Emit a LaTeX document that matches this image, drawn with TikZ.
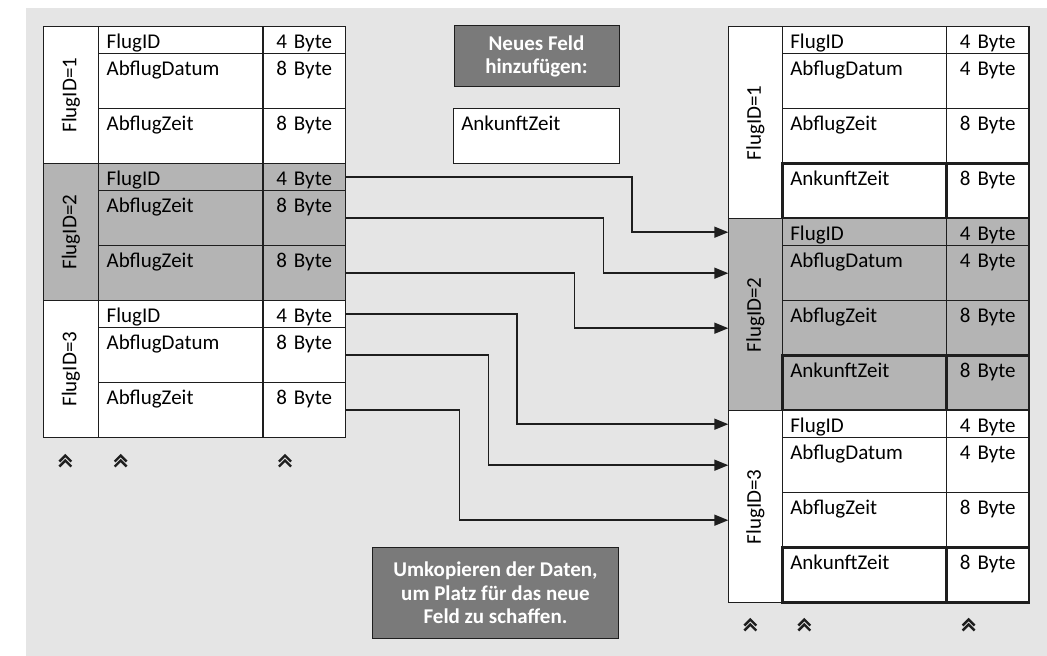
\documentclass[tikz,border=0pt]{standalone}
\usepackage{fontspec}
\setmainfont{Carlito}
\usetikzlibrary{arrows.meta}

\definecolor{bggray}{RGB}{229,229,229}
\definecolor{blockgray}{RGB}{180,180,180}
\definecolor{notegray}{RGB}{122,122,122}
\definecolor{linegray}{RGB}{30,30,30}

\tikzset{
	cell/.style={draw=linegray, line width=1.5pt, fill=white, anchor=north west,
		inner xsep=8pt, inner ysep=0pt, outer sep=0pt, text height=21.7pt},
	namecell/.style={cell, text width=148.3pt, align=left},
	sizecell/.style={cell, text width=66.3pt, align=center},
	srow/.style={text depth=5.3pt},
	trow/.style={text depth=33.3pt},
	greyblock/.style={fill=blockgray},
	newfield/.style={line width=2.6pt},
	idcol/.style={draw=linegray, line width=1.5pt, fill=white, anchor=north west,
		inner sep=0pt, outer sep=0pt},
	idtext/.style={rotate=90, inner sep=0pt},
	note/.style={draw=linegray, line width=1pt, fill=notegray, text=white,
		font=\fontsize{21}{23.5}\bfseries\selectfont, align=center, inner sep=0pt},
	copyline/.style={draw=linegray, line width=1.5pt, -{Triangle[length=14pt, width=11pt]}},
	chevron/.style={draw=linegray, line width=2.4pt}
}

\begin{document}
\begin{tikzpicture}[x=1pt, y=-1pt, font=\fontsize{21}{24}\selectfont]
	\useasboundingbox (0,0) rectangle (1047,656);
	\fill[bggray] (26,8) rectangle (1047,656);

	% Old table
	% Block 1
	\node[idcol, minimum width=55.4pt, minimum height=137pt] (L1) at (43.3,26.7) {};
	\node[idtext] (L1t) at (L1.center) {FlugID=1};
	\node[namecell, srow] (L1a) at (98.7,26.7) {FlugID};
	\node[sizecell, srow] (L1a-s) at (263,26.7) {4 Byte};
	\node[namecell, trow] (L1b) at (98.7,53.7) {AbflugDatum};
	\node[sizecell, trow] (L1b-s) at (263,53.7) {8 Byte};
	\node[namecell, trow] (L1c) at (98.7,108.7) {AbflugZeit};
	\node[sizecell, trow] (L1c-s) at (263,108.7) {8 Byte};

	% Block 2
	\node[idcol, greyblock, minimum width=55.4pt, minimum height=137pt] (L2) at (43.3,163.7) {};
	\node[idtext] (L2t) at (L2.center) {FlugID=2};
	\node[namecell, srow, greyblock] (L2a) at (98.7,163.7) {FlugID};
	\node[sizecell, srow, greyblock] (L2a-s) at (263,163.7) {4 Byte};
	\node[namecell, trow, greyblock] (L2b) at (98.7,190.7) {AbflugZeit};
	\node[sizecell, trow, greyblock] (L2b-s) at (263,190.7) {8 Byte};
	\node[namecell, trow, greyblock] (L2c) at (98.7,245.7) {AbflugZeit};
	\node[sizecell, trow, greyblock] (L2c-s) at (263,245.7) {8 Byte};

	% Block 3
	\node[idcol, minimum width=55.4pt, minimum height=137pt] (L3) at (43.3,300.7) {};
	\node[idtext] (L3t) at (L3.center) {FlugID=3};
	\node[namecell, srow] (L3a) at (98.7,300.7) {FlugID};
	\node[sizecell, srow] (L3a-s) at (263,300.7) {4 Byte};
	\node[namecell, trow] (L3b) at (98.7,327.7) {AbflugDatum};
	\node[sizecell, trow] (L3b-s) at (263,327.7) {8 Byte};
	\node[namecell, trow] (L3c) at (98.7,382.7) {AbflugZeit};
	\node[sizecell, trow] (L3c-s) at (263,382.7) {8 Byte};

	% Continuation marks
	\draw[chevron] (59.3,461.5) -- (65.3,455.5) -- (71.3,461.5) (59.3,466.5) -- (65.3,460.5) -- (71.3,466.5);
	\draw[chevron] (114.7,461.5) -- (120.7,455.5) -- (126.7,461.5) (114.7,466.5) -- (120.7,460.5) -- (126.7,466.5);
	\draw[chevron] (279,461.5) -- (285,455.5) -- (291,461.5) (279,466.5) -- (285,460.5) -- (291,466.5);

	% New table
	% Block 1
	\node[idcol, minimum width=54pt, minimum height=192pt] (R1) at (728.3,26.7) {};
	\node[idtext] (R1t) at (R1.center) {FlugID=1};
	\node[namecell, srow] (R1a) at (782.3,26.7) {FlugID};
	\node[sizecell, srow] (R1a-s) at (946.6,26.7) {4 Byte};
	\node[namecell, trow] (R1b) at (782.3,53.7) {AbflugDatum};
	\node[sizecell, trow] (R1b-s) at (946.6,53.7) {4 Byte};
	\node[namecell, trow] (R1c) at (782.3,108.7) {AbflugZeit};
	\node[sizecell, trow] (R1c-s) at (946.6,108.7) {8 Byte};
	\node[namecell, trow, newfield] (R1d) at (782.3,163.7) {AnkunftZeit};
	\node[sizecell, trow, newfield] (R1d-s) at (946.6,163.7) {8 Byte};

	% Block 2
	\node[idcol, greyblock, minimum width=54pt, minimum height=192pt] (R2) at (728.3,218.7) {};
	\node[idtext] (R2t) at (R2.center) {FlugID=2};
	\node[namecell, srow, greyblock] (R2a) at (782.3,218.7) {FlugID};
	\node[sizecell, srow, greyblock] (R2a-s) at (946.6,218.7) {4 Byte};
	\node[namecell, trow, greyblock] (R2b) at (782.3,245.7) {AbflugDatum};
	\node[sizecell, trow, greyblock] (R2b-s) at (946.6,245.7) {4 Byte};
	\node[namecell, trow, greyblock] (R2c) at (782.3,300.7) {AbflugZeit};
	\node[sizecell, trow, greyblock] (R2c-s) at (946.6,300.7) {8 Byte};
	\node[namecell, trow, greyblock, newfield] (R2d) at (782.3,355.7) {AnkunftZeit};
	\node[sizecell, trow, greyblock, newfield] (R2d-s) at (946.6,355.7) {8 Byte};

	% Block 3
	\node[idcol, minimum width=54pt, minimum height=192pt] (R3) at (728.3,410.7) {};
	\node[idtext] (R3t) at (R3.center) {FlugID=3};
	\node[namecell, srow] (R3a) at (782.3,410.7) {FlugID};
	\node[sizecell, srow] (R3a-s) at (946.6,410.7) {4 Byte};
	\node[namecell, trow] (R3b) at (782.3,437.7) {AbflugDatum};
	\node[sizecell, trow] (R3b-s) at (946.6,437.7) {4 Byte};
	\node[namecell, trow] (R3c) at (782.3,492.7) {AbflugZeit};
	\node[sizecell, trow] (R3c-s) at (946.6,492.7) {8 Byte};
	\node[namecell, trow, newfield] (R3d) at (782.3,547.7) {AnkunftZeit};
	\node[sizecell, trow, newfield] (R3d-s) at (946.6,547.7) {8 Byte};

	% Continuation marks
	\draw[chevron] (744.3,625.5) -- (750.3,619.5) -- (756.3,625.5) (744.3,630.5) -- (750.3,624.5) -- (756.3,630.5);
	\draw[chevron] (798.3,625.5) -- (804.3,619.5) -- (810.3,625.5) (798.3,630.5) -- (804.3,624.5) -- (810.3,630.5);
	\draw[chevron] (962.6,625.5) -- (968.6,619.5) -- (974.6,625.5) (962.6,630.5) -- (968.6,624.5) -- (974.6,630.5);

	% Field to add
	\node[note, minimum width=165pt, minimum height=60.7pt] (addnote) at (536.5,56.3) {Neues Feld\\hinzufügen:};
	\node[namecell, trow, text width=150pt] (newcol) at (453.3,108.3) {AnkunftZeit};

	% Copy the rows over
	\draw[copyline] (L2a-s.east) -- ++(286.7,0) |- (R2a.west -| R2.west);
	\draw[copyline] (L2b-s.east) -- ++(258.3,0) |- (R2b.west -| R2.west);
	\draw[copyline] (L2c-s.east) -- ++(229.3,0) |- (R2c.west -| R2.west);
	\draw[copyline] (L3a-s.east) -- ++(171.7,0) |- (R3a.west -| R3.west);
	\draw[copyline] (L3b-s.east) -- ++(143.3,0) |- (R3b.west -| R3.west);
	\draw[copyline] (L3c-s.east) -- ++(114.3,0) |- (R3c.west -| R3.west);

	\node[note, minimum width=246.4pt, minimum height=91.4pt] (copynote) at (495.5,593) {Umkopieren der Daten,\\um Platz für das neue\\Feld zu schaffen.};
\end{tikzpicture}
\end{document}
